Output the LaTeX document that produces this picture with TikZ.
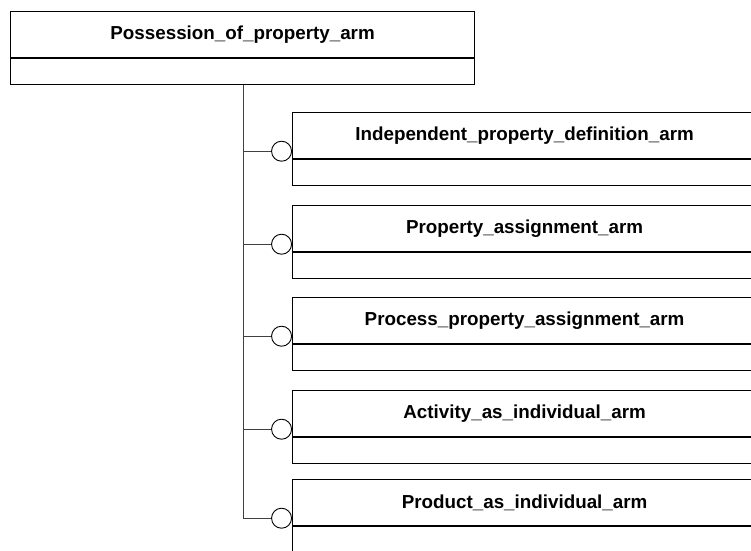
\documentclass[tikz,border=0pt]{standalone}
\usepackage{fontspec}
\setmainfont{Liberation Sans}
\usetikzlibrary{positioning, calc}
\tikzset{
    armtitle/.style={draw, line width=1.2pt, anchor=north west, minimum width=464pt, minimum height=46pt, inner sep=0pt, font=\bfseries\fontsize{18.8}{21}\selectfont},
    armattr/.style={draw, line width=1.2pt, minimum width=464pt, minimum height=26pt, inner sep=0pt, below=0pt of #1},
    lollipop/.style={draw, circle, line width=0.9pt, minimum size=20pt, inner sep=0pt, anchor=east},
    link/.style={line width=0.9pt, black!75}
}
\begin{document}
\begin{tikzpicture}[x=1pt, y=-1pt]
        \useasboundingbox (0, 0) rectangle (751, 550);
        \clip (0, 0) rectangle (751, 550);
        % supertype
        \node[armtitle] (poss) at (10, 11) {Possession\_of\_property\_arm};
        \node[armattr={poss}] (possattr) {};
        % subtypes
        \node[armtitle] (indep) at (292, 112) {Independent\_property\_definition\_arm};
        \node[armattr={indep}] (indepattr) {};
        \node[armtitle] (assign) at (292, 205) {Property\_assignment\_arm};
        \node[armattr={assign}] (assignattr) {};
        \node[armtitle] (process) at (292, 297) {Process\_property\_assignment\_arm};
        \node[armattr={process}] (processattr) {};
        \node[armtitle] (activity) at (292, 390) {Activity\_as\_individual\_arm};
        \node[armattr={activity}] (activityattr) {};
        \node[armtitle] (product) at (292, 479) {Product\_as\_individual\_arm};
        \node[armattr={product}] (productattr) {};
        % circles
        \node[lollipop] (cindep) at ($(indep.south west) + (0, -8)$) {};
        \node[lollipop] (cassign) at ($(assign.south west) + (0, -8)$) {};
        \node[lollipop] (cprocess) at ($(process.south west) + (0, -8)$) {};
        \node[lollipop] (cactivity) at ($(activity.south west) + (0, -8)$) {};
        \node[lollipop] (cproduct) at ($(product.south west) + (0, -8)$) {};
        % tree
        \coordinate (trunk) at ($(possattr.south west) + (233, 0)$);
        \draw[link] (trunk) -- (trunk |- cproduct.west) -- (cproduct.west);
        \draw[link] (trunk |- cindep.west) -- (cindep.west);
        \draw[link] (trunk |- cassign.west) -- (cassign.west);
        \draw[link] (trunk |- cprocess.west) -- (cprocess.west);
        \draw[link] (trunk |- cactivity.west) -- (cactivity.west);
\end{tikzpicture}
\end{document}
